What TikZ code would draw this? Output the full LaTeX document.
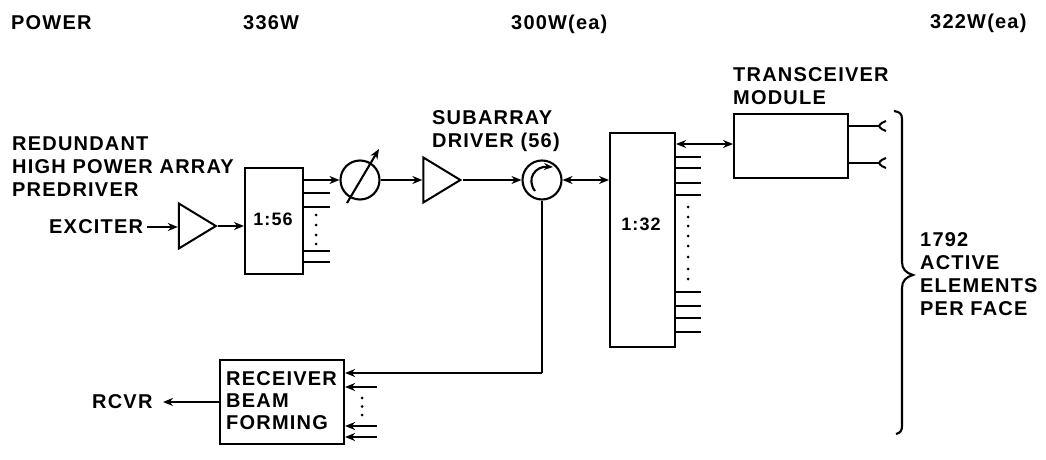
\documentclass[tikz,border=0pt]{standalone}
\usepackage{fontspec}
\setmainfont{Liberation Sans}
\newfontfamily\spacedsans[LetterSpace=6]{Liberation Sans}
\usetikzlibrary{arrows.meta,shapes.geometric}
\tikzset{
  lbl/.style={anchor=west,inner sep=0pt,align=left,font=\spacedsans\fontsize{20}{23}\selectfont\bfseries},
  ratio/.style={inner sep=0pt,font=\spacedsans\fontsize{18}{20}\selectfont\bfseries},
  blk/.style={draw,line width=2.1pt,inner sep=0pt,anchor=north west},
  amp/.style={draw,line width=2pt,isosceles triangle,isosceles triangle stretches,inner sep=0pt,minimum height=37pt,minimum width=45pt},
  ring/.style={draw,circle,line width=2.1pt,inner sep=0pt,minimum size=39pt},
  wire/.style={line width=2.1pt},
  sig/.style={wire,-{Stealth[length=10pt,width=8pt]}},
  bidir/.style={wire,{Stealth[length=10pt,width=8pt]}-{Stealth[length=10pt,width=8pt]}},
  dotmark/.style={fill,circle,inner sep=0pt,minimum size=3pt}
}
\begin{document}
\begin{tikzpicture}[x=1pt,y=-1pt]
\useasboundingbox (0,0) rectangle (1046,460);
% header
\node[lbl] (hpower) at (11,23) {POWER};
\node[lbl] (h336) at (243,23) {336W};
\node[lbl] (h300) at (511,24) {300W(ea)};
\node[lbl] (h322) at (930,23) {322W(ea)};
% labels
\node[lbl] (predriver) at (12,166.5) {REDUNDANT\\HIGH POWER ARRAY\\PREDRIVER};
\node[lbl] (exciter) at (49,227) {EXCITER};
\node[lbl] (subarray) at (432,131) {SUBARRAY\\DRIVER (56)};
\node[lbl] (transceiver) at (733,86) {TRANSCEIVER\\MODULE};
\node[lbl] (rcvr) at (92,402) {RCVR};
\node[lbl] (faces) at (920,274) {1792\\ACTIVE\\ELEMENTS\\PER FACE};
% blocks
\node[blk,minimum width=58pt,minimum height=106pt] (split) at (244,167) {};
\node[ratio] (splitlbl) at (273,219) {1:56};
\node[blk,minimum width=65pt,minimum height=214pt] (sub) at (609,132) {};
\node[ratio] (sublbl) at (641,224) {1:32};
\node[blk,minimum width=114pt,minimum height=64pt] (tr) at (733,113) {};
\node[blk,minimum width=124pt,minimum height=84pt] (rx) at (219,359) {};
\node[lbl,font=\spacedsans\fontsize{20}{22}\selectfont\bfseries] (rxlbl) at (226,401) {RECEIVER\\BEAM\\FORMING};
\node[amp] (amp1) at (191.5,226) {};
\node[amp] (amp2) at (436,180) {};
\node[ring] (phase) at (360,180) {};
\node[ring] (circ) at (542,180) {};
% main chain
\draw[sig] (exciter.east)++(4,0) -- (amp1.west |- exciter.east);
\draw[sig] (amp1.apex) -- (split.west |- amp1.apex);
\draw[sig] (split.east |- phase.west) -- (phase.west);
\draw[sig] (phase.east) -- (amp2.west |- phase.east);
\draw[sig] (amp2.apex) -- (circ.west);
\draw[bidir] (circ.east) -- (sub.west |- circ.east);
\draw[bidir] (sub.east |- 0,144) -- (tr.west |- 0,144);
% phase shifter slash
\coordinate (ps1) at (347,203);
\coordinate (ps2) at (379,149);
\draw[sig] (ps1) -- (ps2);
% circulator inner arrow
\coordinate (ca) at (535,191);
\coordinate (cb) at (553,167);
\draw[sig,-{Stealth[length=9pt,width=7pt]}] (ca) .. controls (526,179) and (535,166) .. (cb);
% receive path
\coordinate (rxbend) at (circ.south |- 0,373);
\draw[wire] (circ.south) -- (rxbend);
\draw[sig] (rxbend) -- (rx.east |- rxbend);
\foreach \yy in {387,426,437} \draw[sig] (377,\yy) -- (rx.east |- 0,\yy);
\foreach \yy in {398,406.5,415} \node[dotmark] at (362,\yy) {};
\draw[sig] (rx.west |- rcvr.east) -- ++(-56,0);
% 1:56 stubs
\foreach \yy in {193,207,251,262} \draw[wire] (split.east |- 0,\yy) -- ++(26,0);
\foreach \yy in {215,225,235,244} \node[dotmark] at (316,\yy) {};
% 1:32 stubs
\foreach \yy in {157,168,183,195,292,306,318,332} \draw[wire] (sub.east |- 0,\yy) -- ++(25,0);
\foreach \yy in {207,217,226,236,246,257,269,279} \node[dotmark] at (688,\yy) {};
% module outputs
\foreach \yy in {126,163} {
  \draw[wire] (tr.east |- 0,\yy) -- ++(30,0) coordinate (fork);
  \draw[line width=2pt] (886,\yy-5) .. controls (883,\yy-4.5) and (880,\yy-2) .. (fork) .. controls (880,\yy+2) and (883,\yy+4.5) .. (886,\yy+5);
}
% brace
\coordinate (bt) at (894,111);
\coordinate (bm) at (913,275);
\coordinate (bb) at (896,434);
\draw[wire] (bt) .. controls (899,112) and (902,113) .. (902,119) -- (902,262) .. controls (902,269) and (906,273) .. (bm) .. controls (906,277) and (902,281) .. (902,288) -- (902,426) .. controls (902,431) and (900,433) .. (bb);
\end{tikzpicture}
\end{document}
